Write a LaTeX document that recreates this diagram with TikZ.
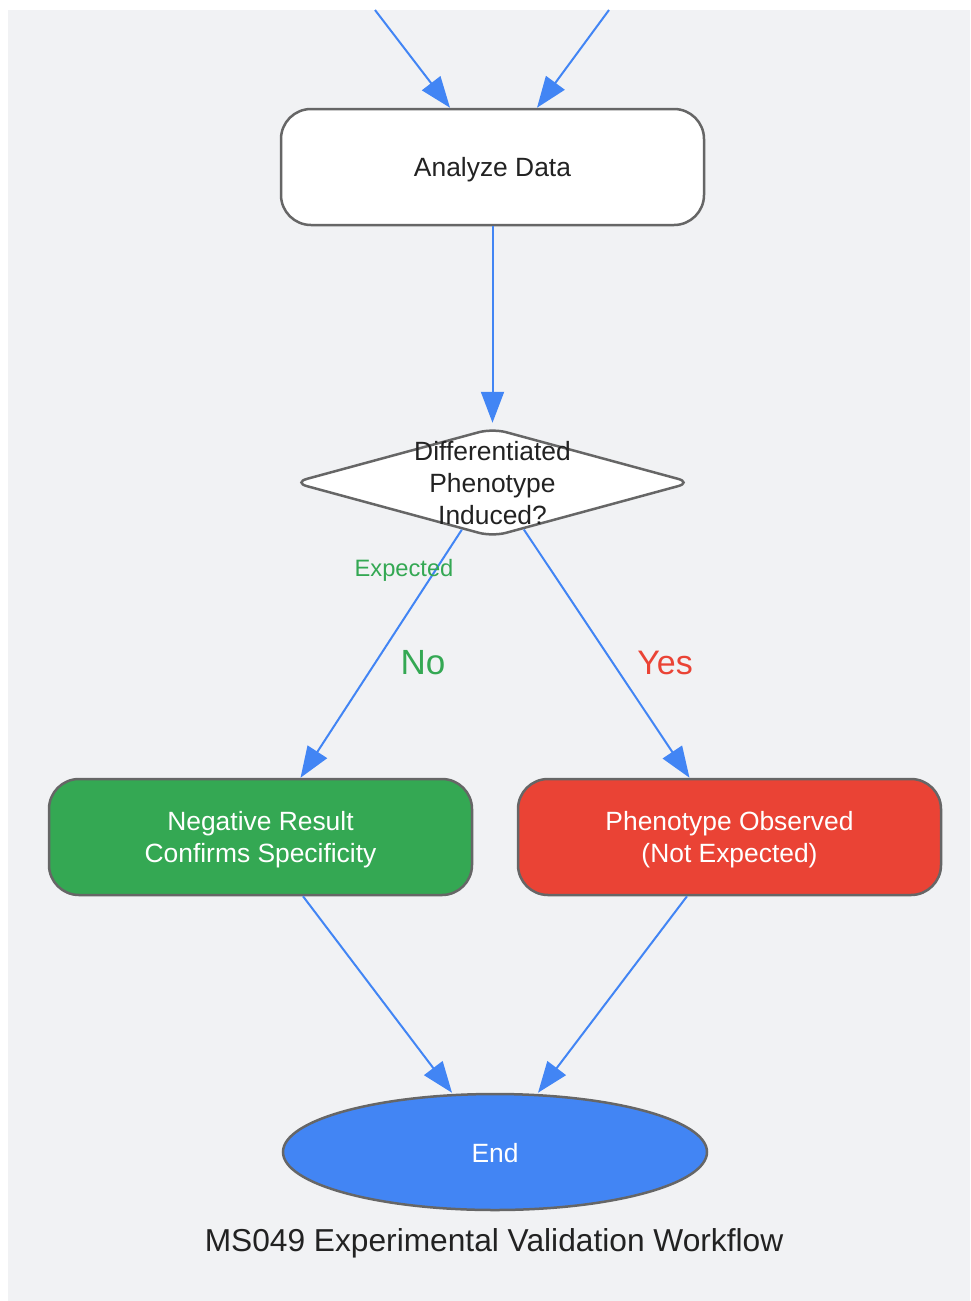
\documentclass[tikz,border=0pt]{standalone}
\usepackage{fontspec}
\setmainfont{Liberation Sans}
\usetikzlibrary{arrows.meta,shapes.geometric}
\definecolor{bggray}{HTML}{F1F2F4}
\definecolor{strokegray}{HTML}{666666}
\definecolor{flowblue}{HTML}{4285F4}
\definecolor{okgreen}{HTML}{34A853}
\definecolor{badred}{HTML}{EA4335}
\definecolor{inkdark}{HTML}{222222}
\tikzset{
  box/.style={draw=strokegray, line width=2.5pt, rounded corners=30pt,
    minimum width=423pt, minimum height=116pt, inner sep=0pt},
  boxtext/.style={align=center, inner sep=0pt,
    font=\fontsize{26.4}{32}\selectfont},
  decision/.style={diamond, draw=strokegray, fill=white, line width=2.5pt,
    rounded corners=14pt, minimum width=399pt, minimum height=109pt, inner sep=0pt},
  terminal/.style={ellipse, draw=strokegray, line width=2.5pt, fill=flowblue,
    minimum width=424pt, minimum height=116pt, inner sep=0pt},
  flow/.style={draw=flowblue, line width=2pt,
    -{Triangle[length=31pt,width=23pt]}},
  lbl/.style={inner sep=0pt, font=\fontsize{#1}{#1}\selectfont},
}
\begin{document}
\begin{tikzpicture}[x=1pt,y=-1pt]
\useasboundingbox (0,0) rectangle (970,1301);
\fill[white] (0,0) rectangle (970,1301);
\fill[bggray] (8,10) rectangle (970,1301);

\node[box, fill=white] (analyze) at (492.5,167) {};
\node[boxtext, text=inkdark] (analyzetext) at ([yshift=-3pt]analyze.center) {Analyze Data};
\node[decision] (dec) at (492.5,482.5) {};
\node[boxtext, text=inkdark] (dectext) at (492.5,483) {Differentiated\\Phenotype\\Induced?};
\node[box, fill=okgreen] (neg) at (260.5,837) {};
\node[boxtext, text=white] (negtext) at ([yshift=-3pt]neg.center) {Negative Result\\Confirms Specificity};
\node[box, fill=badred] (pheno) at (729.5,837) {};
\node[boxtext, text=white] (phenotext) at ([yshift=-3pt]pheno.center) {Phenotype Observed\\(Not Expected)};
\node[terminal] (end) at (495,1152) {};
\node[boxtext, text=white] (endtext) at ([yshift=-1pt]end.center) {End};
\node[lbl=31.7, text=inkdark] (title) at (494,1243) {MS049 Experimental Validation Workflow};

\coordinate (inA) at (375,10);
\coordinate (inB) at (609,10);
\draw[flow] (inA) -- ([xshift=-42.5pt]analyze.north);
\draw[flow] (inB) -- ([xshift=44.5pt]analyze.north);
\draw[flow, shorten >=4pt] (analyze) -- (dec);
\draw[flow] (dec) -- ([xshift=40pt]neg.north);
\draw[flow] (dec) -- ([xshift=-40pt]pheno.north);
\draw[flow] ([xshift=42.5pt]neg.south) -- ([xshift=-43pt]end.north);
\draw[flow] ([xshift=-42.5pt]pheno.south) -- ([xshift=43pt]end.north);

\node[lbl=23.7, text=okgreen] (lexp) at (404,570) {Expected};
\node[lbl=35, text=okgreen] (lno) at (423,663) {No};
\node[lbl=34, text=badred] (lyes) at (665,663) {Yes};
\end{tikzpicture}
\end{document}
